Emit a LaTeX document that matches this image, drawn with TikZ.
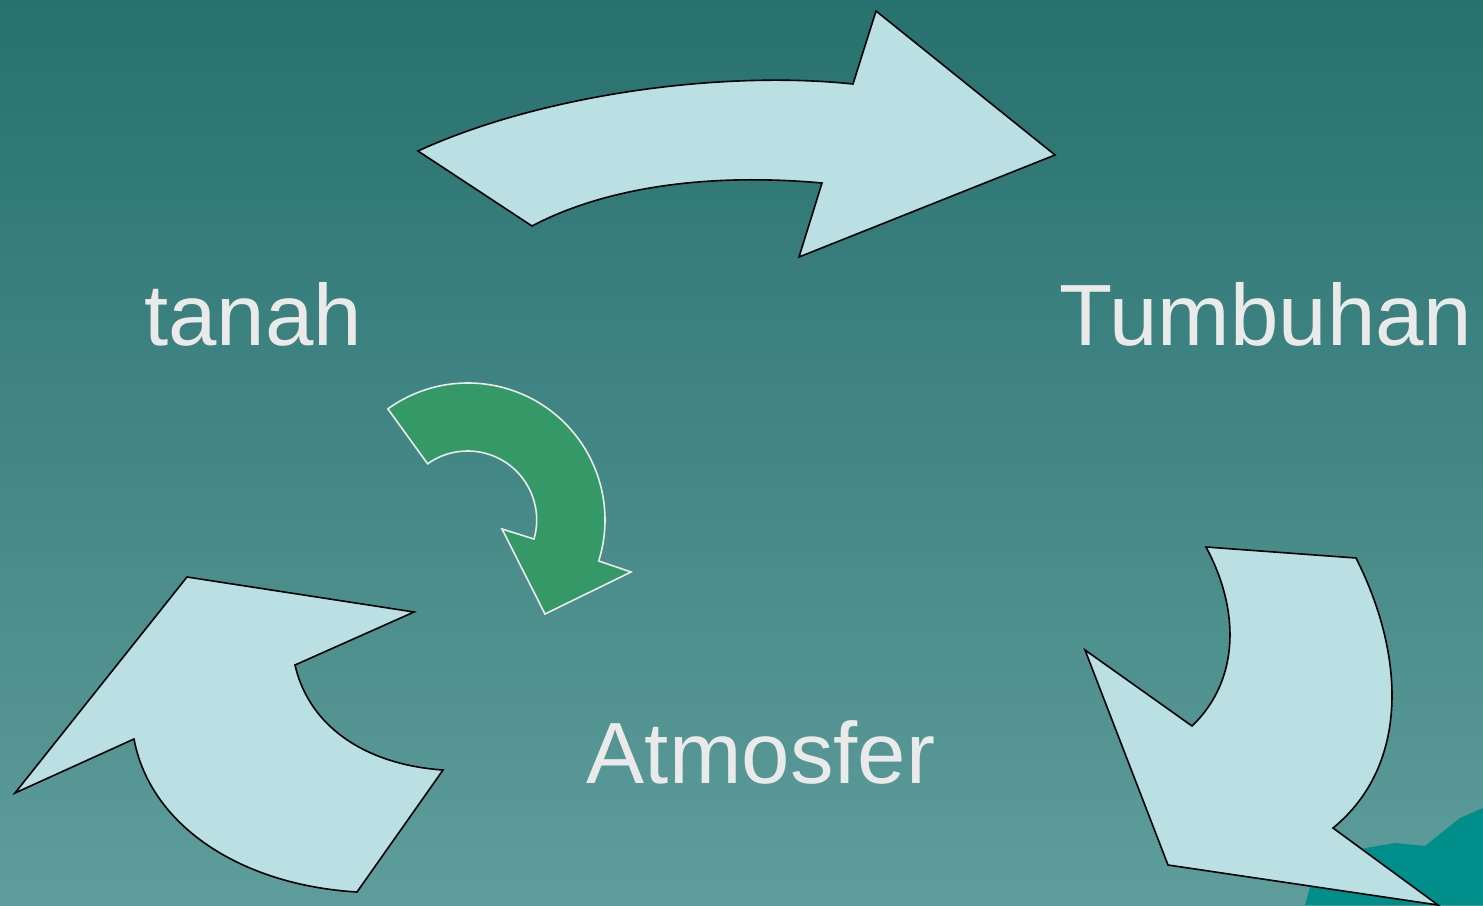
\documentclass[tikz,border=0pt]{standalone}
\usepackage{fontspec}
\setmainfont{Liberation Sans}
\usetikzlibrary{calc}
\definecolor{bgtop}{RGB}{39,113,111}
\definecolor{bgbot}{RGB}{94,157,155}
\definecolor{arrowfill}{RGB}{186,224,227}
\definecolor{greenfill}{RGB}{52,153,102}
\definecolor{txtcol}{RGB}{234,234,234}
\definecolor{deepteal}{RGB}{0,142,139}
\begin{document}
\begin{tikzpicture}[x=0.5pt,y=-0.5pt,
  bigarrow/.style={fill=arrowfill,draw=black,line width=0.8pt,line join=miter},
  greenarrow/.style={fill=greenfill,draw=txtcol,line width=0.8pt},
  label/.style={text=txtcol,font=\fontsize{43.5}{50}\selectfont,anchor=base,inner sep=0pt}]
\useasboundingbox (0,0) rectangle (1483,905);
\shade[top color=bgtop,bottom color=bgbot] (0,0) rectangle (1483,905);
% decorative corner
\fill[deepteal] (1305,905) -- (1312,880) -- (1340,858) -- (1365,848) -- (1395,843) -- (1425,846) -- (1460,818) -- (1483,808) -- (1483,905) -- cycle;
% top arrow
\draw[bigarrow] (418,151) .. controls (540,95) and (720,70) .. (853,84)
  -- (876,11) -- (1055,155) -- (799,257) -- (822,183)
  .. controls (700,172) and (600,190) .. (532,226) -- cycle;
% right arrow
\draw[bigarrow] (1206,547) -- (1356,558)
  .. controls (1405,655) and (1410,765) .. (1333,828)
  -- (1438,905) -- (1168,865) -- (1085,650) -- (1192,726)
  .. controls (1240,680) and (1240,610) .. (1206,547) -- cycle;
% bottom-left arrow
\draw[bigarrow] (187,577) -- (414,612) -- (295,665)
  .. controls (310,730) and (370,765) .. (443,770)
  -- (357,892)
  .. controls (240,885) and (150,825) .. (134,739)
  -- (15,793) -- cycle;
% green arrow
\coordinate (gc) at (468,520);
\draw[greenarrow] ($(gc)+(-125.8:137)$) arc[start angle=-125.8,end angle=17.4,radius=137]
  -- (631,572) -- (545,614) -- (502,529) -- (534,539)
  arc[start angle=16,end angle=-125.5,radius=69] -- cycle;
% labels
\node[label] (tanah) at (253,345) {tanah};
\node[label] (tumbuhan) at (1266,345) {Tumbuhan};
\node[label] (atmosfer) at (761,783) {Atmosfer};
\end{tikzpicture}
\end{document}
